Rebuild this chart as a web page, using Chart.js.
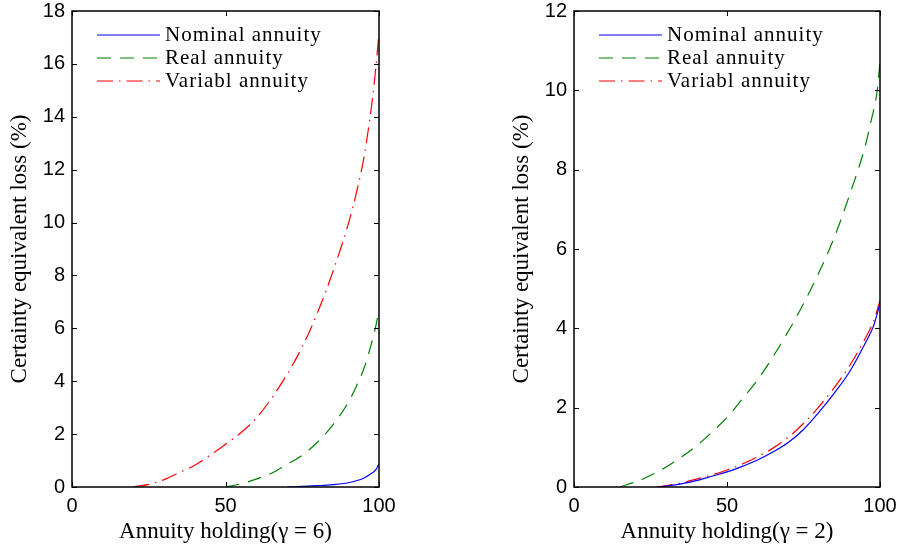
<!DOCTYPE html>
<html>
<head>
<meta charset="utf-8">
<script src="https://cdn.jsdelivr.net/npm/chart.js@4.4.1/dist/chart.umd.min.js"></script>
<style>
  html, body { margin: 0; padding: 0; background: #fff; }
  #wrap { position: relative; width: 900px; height: 552px; }
  .panel { position: absolute; top: 0; width: 450px; height: 552px; }
</style>
</head>
<body>
<div id="wrap">
  <div class="panel" style="left:0"><canvas id="chartG6" width="450" height="552"></canvas></div>
  <div class="panel" style="left:450px"><canvas id="chartG2" width="450" height="552"></canvas></div>
</div>
<script>
// ---- data (annuity holding %, CE loss %) ----
const seriesNames = ['Nominal annuity', 'Real annuity', 'Variabl annuity'];
const xTicks = [0, 50, 100];

// gamma = 6
const g6NominalX = [70, 75, 80, 85, 90, 95, 97, 99, 100];
const g6NominalY = [0, 0.02, 0.05, 0.09, 0.16, 0.33, 0.47, 0.66, 0.88];
const g6RealX = [50, 55, 60, 65, 70, 75, 80, 85, 90, 93, 95, 97, 99, 100];
const g6RealY = [0, 0.12, 0.3, 0.52, 0.85, 1.2, 1.7, 2.35, 3.2, 3.9, 4.45, 5.2, 6.1, 6.75];
const g6VarX = [20, 25, 30, 35, 40, 45, 50, 55, 60, 65, 70, 75, 80, 85, 90, 93, 95, 97, 98, 99, 100];
const g6VarY = [0, 0.1, 0.28, 0.55, 0.82, 1.2, 1.62, 2.05, 2.6, 3.35, 4.25, 5.3, 6.6, 8.15, 9.95, 11.3, 12.4, 13.9, 14.8, 15.9, 17.15];

// gamma = 2
const g2NominalX = [28, 35, 41, 45, 50, 55, 60, 65, 70, 75, 80, 85, 90, 95, 98, 100];
const g2NominalY = [0, 0.08, 0.18, 0.27, 0.38, 0.52, 0.68, 0.88, 1.12, 1.45, 1.88, 2.36, 2.9, 3.6, 4.08, 4.63];
const g2RealX = [15, 22.5, 30, 35, 41, 45, 50, 55, 60, 65, 70, 75, 80, 85, 90, 95, 97, 99, 100];
const g2RealY = [0, 0.2, 0.5, 0.75, 1.1, 1.38, 1.75, 2.22, 2.7, 3.28, 3.92, 4.62, 5.4, 6.28, 7.35, 8.55, 9.2, 9.95, 10.7];
const g2VarX = [27, 35, 40, 45, 50, 55, 60, 65, 70, 75, 80, 85, 90, 95, 98, 100];
const g2VarY = [0, 0.1, 0.2, 0.3, 0.43, 0.58, 0.76, 0.98, 1.25, 1.6, 2.02, 2.5, 3.05, 3.72, 4.2, 4.7];

const SERIF = "'Liberation Serif', serif";
const SANS = "'Liberation Sans', Arial, sans-serif";

const styles = [
    { color: '#0000ff', dash: [] },
    { color: '#008000', dash: [14, 9] },
    { color: '#ff0000', dash: [16, 6, 1.5, 6] }
];

function pts(xs, ys) { return xs.map((x, i) => ({ x, y: ys[i] })); }

// box, inward ticks and in-plot legend (MATLAB look)
const boxPlugin = {
    id: 'boxPlugin',
    afterDraw(chart) {
        const { ctx, chartArea: a, scales: { x, y } } = chart;
        ctx.save();
        ctx.strokeStyle = '#000';
        ctx.lineWidth = 1;
        ctx.beginPath();
        x.ticks.forEach(t => {
            const px = Math.round(x.getPixelForValue(t.value)) + 0.5;
            ctx.moveTo(px, a.bottom); ctx.lineTo(px, a.bottom - 5);
            ctx.moveTo(px, a.top); ctx.lineTo(px, a.top + 5);
        });
        y.ticks.forEach(t => {
            const py = Math.round(y.getPixelForValue(t.value)) + 0.5;
            ctx.moveTo(a.left, py); ctx.lineTo(a.left + 5, py);
            ctx.moveTo(a.right, py); ctx.lineTo(a.right - 5, py);
        });
        ctx.stroke();
        ctx.lineWidth = 1.5;
        ctx.strokeRect(a.left, a.top, a.width, a.height);

        // legend
        ctx.font = '21px ' + SERIF;
        ctx.letterSpacing = '1px';
        ctx.textBaseline = 'middle';
        ctx.fillStyle = '#000';
        chart.data.datasets.forEach((ds, i) => {
            const ly = a.top + 24 + i * 23;
            ctx.strokeStyle = ds.borderColor;
            ctx.lineWidth = 1.2;
            ctx.setLineDash(ds.borderDash || []);
            ctx.beginPath();
            ctx.moveTo(a.left + 25, ly);
            ctx.lineTo(a.left + 88, ly);
            ctx.stroke();
            ctx.setLineDash([]);
            ctx.fillText(ds.label, a.left + 93, ly);
        });
        ctx.letterSpacing = '0px';
        ctx.restore();
    }
};

function makeChart(id, series, yMax, gamma, padLeft, padRight) {
    new Chart(document.getElementById(id), {
        type: 'line',
        data: {
            datasets: series.map((s, i) => ({
                label: seriesNames[i],
                data: pts(s[0], s[1]),
                borderColor: styles[i].color,
                borderDash: styles[i].dash,
                borderWidth: 1.2,
                pointRadius: 0,
                fill: false,
                cubicInterpolationMode: 'monotone'
            }))
        },
        options: {
            responsive: false,
            animation: false,
            devicePixelRatio: 1,
            layout: { padding: { left: padLeft, right: padRight, top: 11, bottom: 0 } },
            plugins: { legend: { display: false }, tooltip: { enabled: false } },
            scales: {
                x: {
                    type: 'linear', min: 0, max: 100,
                    afterBuildTicks: s => { s.ticks = xTicks.map(v => ({ value: v })); },
                    afterFit: s => { s.height = 65; s.paddingLeft = 0; s.paddingRight = 0; },
                    grid: { display: false, drawTicks: false },
                    border: { display: false },
                    ticks: { padding: 7, color: '#000', font: { family: SANS, size: 20 } },
                    title: {
                        display: true, text: 'Annuity holding(γ = ' + gamma + ')',
                        color: '#000', font: { family: SERIF, size: 23 }, padding: { bottom: 6 }
                    }
                },
                y: {
                    min: 0, max: yMax,
                    afterFit: s => { s.width = 72; s.paddingTop = 0; s.paddingBottom = 0; },
                    grid: { display: false, drawTicks: false },
                    border: { display: false },
                    ticks: { stepSize: 2, padding: 7, color: '#000', font: { family: SANS, size: 20 } },
                    title: {
                        display: true, text: 'Certainty equivalent loss (%)',
                        color: '#000', font: { family: SERIF, size: 23 }, padding: { top: 6 }
                    }
                }
            }
        },
        plugins: [boxPlugin]
    });
}

makeChart('chartG6', [[g6NominalX, g6NominalY], [g6RealX, g6RealY], [g6VarX, g6VarY]], 18, 6, 0, 71);
makeChart('chartG2', [[g2NominalX, g2NominalY], [g2RealX, g2RealY], [g2VarX, g2VarY]], 12, 2, 52, 20);
</script>
</body>
</html>
